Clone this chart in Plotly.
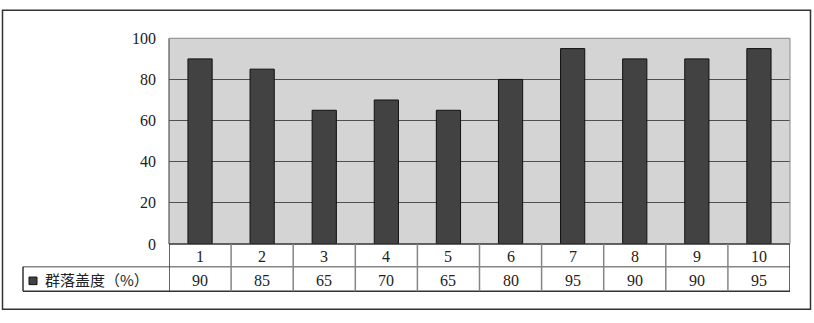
import plotly.graph_objects as go

categories = ["1", "2", "3", "4", "5", "6", "7", "8", "9", "10"]
coverage = [90, 85, 65, 70, 65, 80, 95, 90, 90, 95]
series_name = "群落盖度（%）"
y_ticks = [0, 20, 40, 60, 80, 100]

W, H = 814, 323


def px(x):
    return x / W


def py(y):
    return 1 - y / H


x0p, x1p = px(169), px(790)
y_top, y_bot = py(32), py(249)
row1 = py(273)
row2 = py(299)
leg_left = px(23)

FONT = "Liberation Serif, Noto Sans CJK SC, serif"
CJK = "Noto Sans CJK SC, sans-serif"

fig = go.Figure()
xs = list(range(len(categories)))
fig.add_trace(go.Bar(
    x=xs, y=coverage, width=0.39,
    marker=dict(color="#424242", line=dict(color="#111111", width=1)),
    showlegend=False,
))

shapes = []
dark = "#333333"
mid = "#858585"
# outer chart border
shapes.append(dict(type="rect", xref="paper", yref="paper", x0=px(2.5), x1=px(810.5),
                   y0=py(318), y1=py(2.5), line=dict(color=dark, width=1.5)))
# data table grid
shapes.append(dict(type="line", xref="paper", yref="paper", x0=leg_left, x1=x1p, y0=row1, y1=row1,
                   line=dict(color=mid, width=1.5)))
shapes.append(dict(type="line", xref="paper", yref="paper", x0=leg_left, x1=x1p, y0=row2, y1=row2,
                   line=dict(color=dark, width=1.5)))
shapes.append(dict(type="line", xref="paper", yref="paper", x0=x0p, x1=x1p, y0=y_bot, y1=y_bot,
                   line=dict(color=dark, width=1.5)))
shapes.append(dict(type="line", xref="paper", yref="paper", x0=leg_left, x1=leg_left, y0=row2, y1=row1,
                   line=dict(color=dark, width=1.5)))
n = len(categories)
for i in range(n + 1):
    col = dark if i in (0, n) else mid
    shapes.append(dict(type="line", xref="x", yref="paper", x0=i - 0.5, x1=i - 0.5,
                       y0=row2, y1=y_bot, line=dict(color=col, width=1.5)))
# plot area border
shapes.append(dict(type="line", xref="paper", yref="paper", x0=x0p, x1=x0p, y0=y_bot, y1=y_top,
                   line=dict(color="#555555", width=1.2)))
shapes.append(dict(type="line", xref="paper", yref="paper", x0=x0p, x1=x1p, y0=y_top, y1=y_top,
                   line=dict(color="#999999", width=1.2)))
shapes.append(dict(type="line", xref="paper", yref="paper", x0=x1p, x1=x1p, y0=y_bot, y1=y_top,
                   line=dict(color="#999999", width=1.2)))
# legend key
shapes.append(dict(type="rect", xref="paper", yref="paper", x0=px(29), x1=px(37),
                   y0=py(292), y1=py(284), fillcolor="#424242", line=dict(color="#111111", width=1)))

annotations = []
for i, c in enumerate(categories):
    annotations.append(dict(x=i, y=py(262), xref="x", yref="paper", text=c, showarrow=False,
                            yanchor="middle",
                            font=dict(family=FONT, size=16, color="#222222")))
    annotations.append(dict(x=i, y=py(288), xref="x", yref="paper", text=str(coverage[i]),
                            yanchor="middle", showarrow=False,
                            font=dict(family=FONT, size=16, color="#222222")))
annotations.append(dict(x=px(43), y=py(287), xref="paper", yref="paper", text=series_name,
                        xanchor="left", yanchor="middle", showarrow=False,
                        font=dict(family=CJK, size=15, color="#222222")))

fig.update_layout(
    width=W, height=H,
    margin=dict(l=0, r=0, t=0, b=0),
    paper_bgcolor="white",
    plot_bgcolor="#d4d4d4",
    shapes=shapes,
    annotations=annotations,
    xaxis=dict(domain=[x0p, x1p], range=[-0.5, n - 0.5], showticklabels=False,
               showgrid=False, zeroline=False, ticks=""),
    yaxis=dict(domain=[y_bot, y_top], range=[0, 100], tickvals=y_ticks, showgrid=True,
               gridcolor="#505050", gridwidth=1, zeroline=False, ticks="", ticklabelstandoff=12,
               tickfont=dict(family=FONT, size=16, color="#222222")),
)

fig.write_html("out.html")
